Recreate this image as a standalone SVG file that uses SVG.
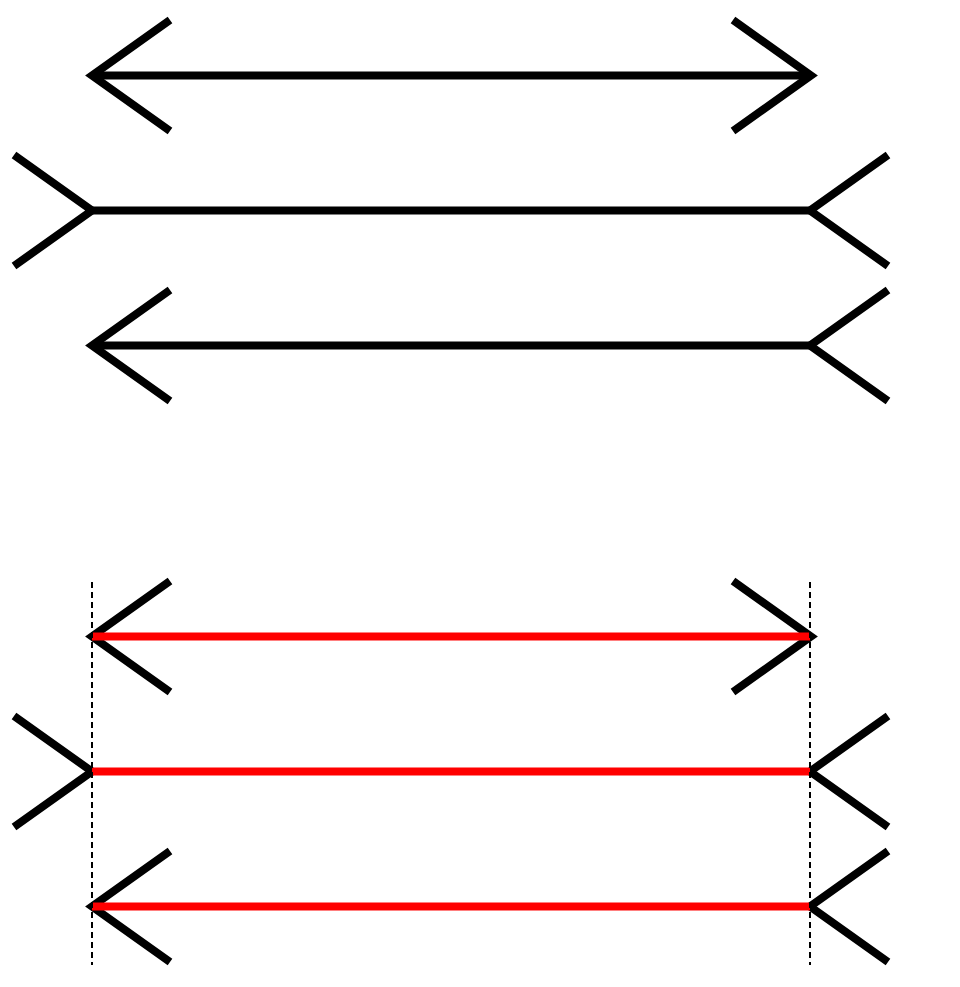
<svg xmlns="http://www.w3.org/2000/svg" width="960" height="987" viewBox="0 0 960 987">
<style>
.fin{fill:none;stroke:#000;stroke-width:8;stroke-linejoin:miter;stroke-miterlimit:10;stroke-linecap:butt}
.shaft{stroke:#000;stroke-width:8}
.red{stroke:#f00;stroke-width:8}
.dash{stroke:#000;stroke-width:2;stroke-dasharray:6,4}
</style>
<rect width="960" height="987" fill="#fff"/>
<g id="top-1">
<line class="shaft" x1="92" y1="75.5" x2="810" y2="75.5"/>
<polyline class="fin" points="170,20 92,75.5 170,131"/>
<polyline class="fin" points="733,20 811,75.5 733,131"/>
</g>
<g id="top-2">
<line class="shaft" x1="92" y1="210.5" x2="810" y2="210.5"/>
<polyline class="fin" points="14,155 92,210.5 14,266"/>
<polyline class="fin" points="888,155 810,210.5 888,266"/>
</g>
<g id="top-3">
<line class="shaft" x1="92" y1="345.5" x2="810" y2="345.5"/>
<polyline class="fin" points="170,290 92,345.5 170,401"/>
<polyline class="fin" points="888,290 810,345.5 888,401"/>
</g>
<g id="bottom-1">
<polyline class="fin" points="170,581 92,636.5 170,692"/>
<polyline class="fin" points="733,581 811,636.5 733,692"/>
<line class="red" x1="92" y1="636.5" x2="810" y2="636.5"/>
</g>
<g id="bottom-2">
<polyline class="fin" points="14,716 92,771.5 14,827"/>
<polyline class="fin" points="888,716 810,771.5 888,827"/>
<line class="red" x1="92" y1="771.5" x2="810" y2="771.5"/>
</g>
<g id="bottom-3">
<polyline class="fin" points="170,851 92,906.5 170,962"/>
<polyline class="fin" points="888,851 810,906.5 888,962"/>
<line class="red" x1="92" y1="906.5" x2="810" y2="906.5"/>
</g>
<g id="connectors">
<line class="dash" x1="92" y1="582" x2="92" y2="965"/>
<line class="dash" x1="810" y1="582" x2="810" y2="965"/>
</g>
</svg>
